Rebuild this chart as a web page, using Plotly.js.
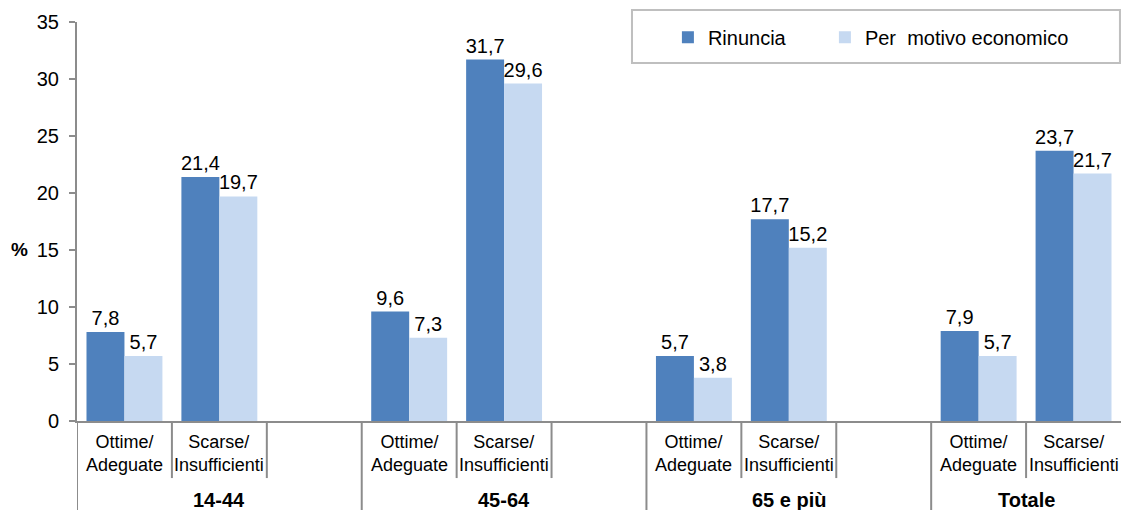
<!DOCTYPE html>
<html>
<head>
<meta charset="utf-8">
<script src="https://cdn.plot.ly/plotly-3.0.1.min.js"></script>
<style>html,body{margin:0;padding:0;background:#fff;}#chart{width:1121px;height:510px;}</style>
</head>
<body>
<div id="chart"></div>
<script>
// ---- data ----
var groups = ["14-44", "45-64", "65 e più", "Totale"];
var subLabels = ["Ottime/<br>Adeguate", "Scarse/<br>Insufficienti", ""];
var slotsPerGroup = [3, 3, 3, 2];
var seriesNames = ["Rinuncia", "Per  motivo economico"];
var rinuncia = [7.8, 21.4, null, 9.6, 31.7, null, 5.7, 17.7, null, 7.9, 23.7];
var economico = [5.7, 19.7, null, 7.3, 29.6, null, 3.8, 15.2, null, 5.7, 21.7];
var yTicks = [0, 5, 10, 15, 20, 25, 30, 35];

// ---- build categories ----
var cats = [], catGroup = [], catSub = [];
groups.forEach(function (g, gi) {
  for (var s = 0; s < slotsPerGroup[gi]; s++) {
    cats.push(g + "|" + s);
    catGroup.push(gi);
    catSub.push(subLabels[s]);
  }
});

var FONT = "Liberation Sans, Arial, sans-serif";
var AXC = "#8c8c8c";
var dark = "#4F81BD", light = "#C6D9F1";

function barTrace(name, vals, color) {
  return {
    type: "bar", name: name, x: cats, y: vals,
    marker: { color: color },
    texttemplate: "%{y:.1f}", textposition: "outside",
    textfont: { family: FONT, size: 20, color: "#000" },
    constraintext: "none", cliponaxis: false, hoverinfo: "skip"
  };
}
var data = [barTrace(seriesNames[0], rinuncia, dark), barTrace(seriesNames[1], economico, light)];
data[0].legendwidth = 112;

// ---- shapes & annotations for the two-level axis ----
var shapes = [], annotations = [];
var SHORT = -0.143, LONG = -0.23;
shapes.push({ type: "line", xref: "x", yref: "paper", x0: -0.5, x1: -0.5, y0: 0, y1: LONG, line: { color: AXC, width: 2 } });
for (var k = 0; k < cats.length - 1; k++) {
  var same = catGroup[k] === catGroup[k + 1];
  shapes.push({ type: "line", xref: "x", yref: "paper", x0: k + 0.5, x1: k + 0.5, y0: 0, y1: same ? SHORT : LONG, line: { color: AXC, width: 2 } });
}
cats.forEach(function (c, k) {
  if (catSub[k]) annotations.push({ xref: "x", yref: "paper", x: k, y: -0.022, yanchor: "top", text: catSub[k], showarrow: false, font: { family: FONT, size: 18, color: "#000" } });
});
var start = 0;
groups.forEach(function (g, gi) {
  var n = slotsPerGroup[gi];
  annotations.push({ xref: "x", yref: "paper", x: start + (n - 1) / 2, y: -0.165, yanchor: "top", text: "<b>" + g + "</b>", showarrow: false, font: { family: FONT, size: 20, color: "#000" } });
  start += n;
});
annotations.push({ xref: "paper", yref: "paper", x: -0.065, y: 0.4286, text: "<b>%</b>", showarrow: false, font: { family: FONT, size: 19, color: "#000" } });
// legend frame
shapes.push({ type: "rect", xref: "paper", yref: "paper", x0: 0.5316, x1: 0.999, y0: 0.897, y1: 1.030, line: { color: "#bfbfbf", width: 2 }, fillcolor: "#fff", layer: "below" });

var layout = {
  width: 1121, height: 510,
  margin: { l: 77, r: 0, t: 22, b: 89 },
  paper_bgcolor: "#fff", plot_bgcolor: "#fff",
  separators: ",.",
  barmode: "group", bargap: 0.2, bargroupgap: 0,
  font: { family: FONT, color: "#000" },
  showlegend: true,
  legend: {
    orientation: "h", x: 0.566, y: 0.962, xanchor: "left", yanchor: "middle",
    bgcolor: "rgba(0,0,0,0)", borderwidth: 0,
    font: { family: FONT, size: 20, color: "#000" },
    itemclick: false
  },
  xaxis: {
    type: "category", categoryorder: "array", categoryarray: cats,
    range: [-0.5, cats.length - 0.5], fixedrange: true,
    showticklabels: false, ticks: "", showgrid: false, zeroline: false,
    showline: true, linecolor: AXC, linewidth: 2
  },
  yaxis: {
    range: [0, 35], tickvals: yTicks, ticktext: yTicks.map(String),
    ticks: "outside", ticklen: 6, tickwidth: 2, tickcolor: AXC,
    showline: true, linecolor: AXC, linewidth: 2,
    showgrid: false, zeroline: false, fixedrange: true,
    tickfont: { family: FONT, size: 20, color: "#000" }, ticklabelstandoff: 6
  },
  shapes: shapes, annotations: annotations
};

Plotly.newPlot("chart", data, layout, { staticPlot: true, displayModeBar: false });
</script>
</body>
</html>
